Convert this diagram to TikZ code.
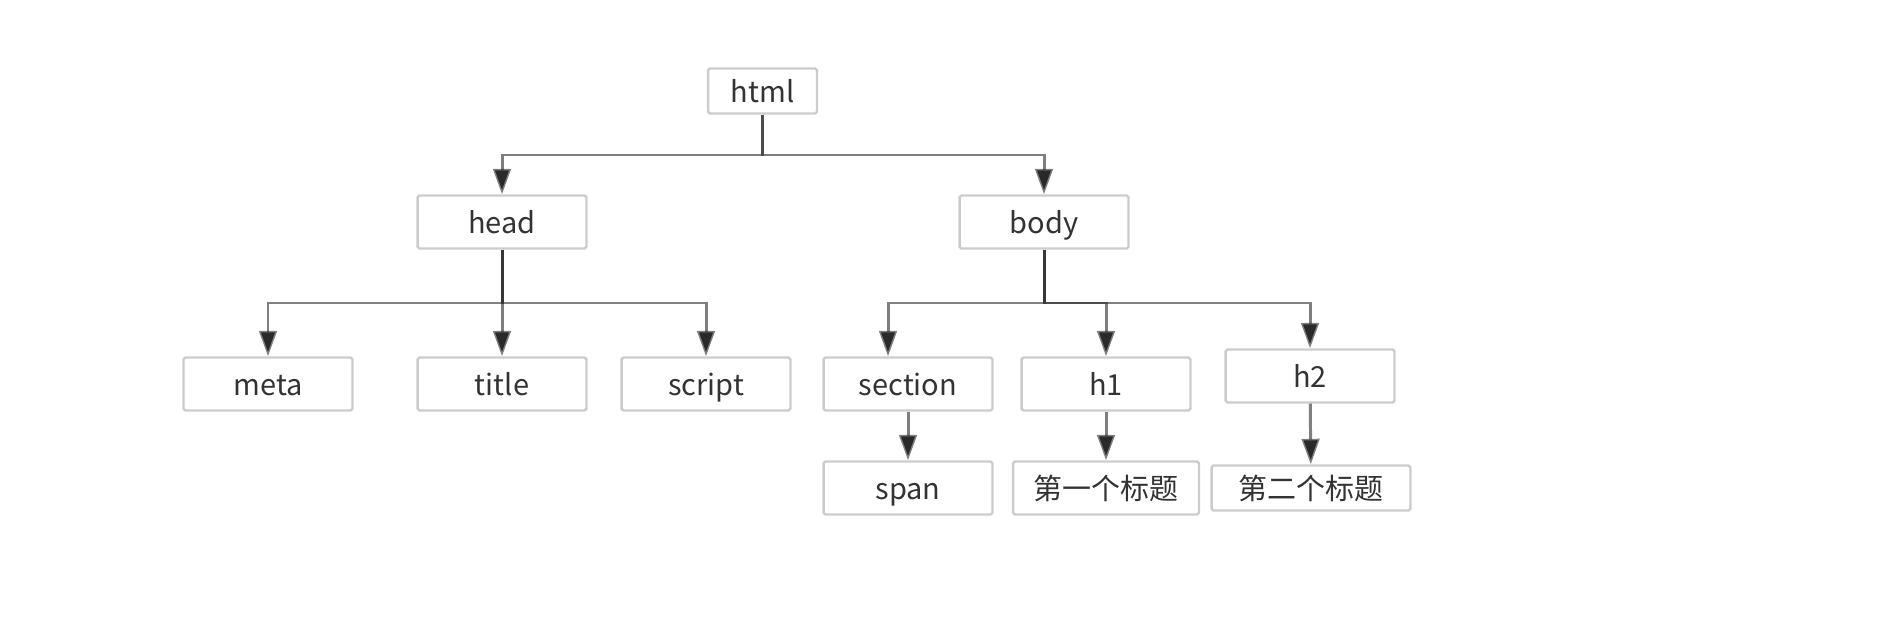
\documentclass[tikz,border=0pt]{standalone}
\usepackage{fontspec}
\setmainfont{Noto Sans CJK SC}
\usepackage{tikz}
\usetikzlibrary{arrows.meta}

\definecolor{boxline}{HTML}{CCCCCC}
\definecolor{txt}{HTML}{333333}
\definecolor{wire}{HTML}{2A2A2A}

\begin{document}
\begin{tikzpicture}[x = 0.02cm, y = -0.02cm, font = \fontsize{16.5}{18}\selectfont,
        tag/.style = {draw = boxline, line width = 1.4pt, rounded corners = 1pt, fill = white,
                text = txt, inner sep = 0pt, text height = 13pt, text depth = 0pt,
                minimum width = 3.38cm, minimum height = 1.06cm},
        link/.style = {draw = wire, draw opacity = 0.6, line width = 1.7pt,
                -{Triangle[length = 14.5pt, width = 10pt]}}]
        \useasboundingbox (0,0) rectangle (1888,628);

        \node[tag, minimum width = 2.18cm, minimum height = 0.9cm] (html) at (762.5,91) {html};

        \node[tag] (head) at (502,222) {head};
        \node[tag] (body) at (1044,222) {body};

        \node[tag] (meta) at (268,384) {meta};
        \node[tag] (title) at (502,384) {title};
        \node[tag] (script) at (706,384) {script};

        \node[tag] (section) at (908,384) {section};
        \node[tag] (h1) at (1106,384) {h1};
        \node[tag] (h2) at (1310,376) {h2};

        \node[tag] (span) at (908,488) {span};
        \node[tag, minimum width = 3.72cm] (first) at (1106,488) {第一个标题};
        \node[tag, minimum width = 3.98cm, minimum height = 0.9cm] (second) at (1311,488) {第二个标题};

        \coordinate (htmlfork) at (762.5,155);
        \coordinate (headfork) at (502,303);
        \coordinate (bodyfork) at (1044,303);

        \draw[link] (html) -- (htmlfork) -| (head);
        \draw[link] (html) -- (htmlfork) -| (body);

        \draw[link] (head) -- (headfork) -| (meta);
        \draw[link] (head) -- (headfork) -| (title);
        \draw[link] (head) -- (headfork) -| (script);

        \draw[link] (body) -- (bodyfork) -| ([xshift = -0.4cm]section.north);
        \draw[link] (body) -- (bodyfork) -| (h1);
        \draw[link] (body) -- (bodyfork) -| (h2);

        \draw[link] (section) -- (span);
        \draw[link] (h1) -- (first);
        \draw[link] (h2) -- (second);
\end{tikzpicture}
\end{document}
